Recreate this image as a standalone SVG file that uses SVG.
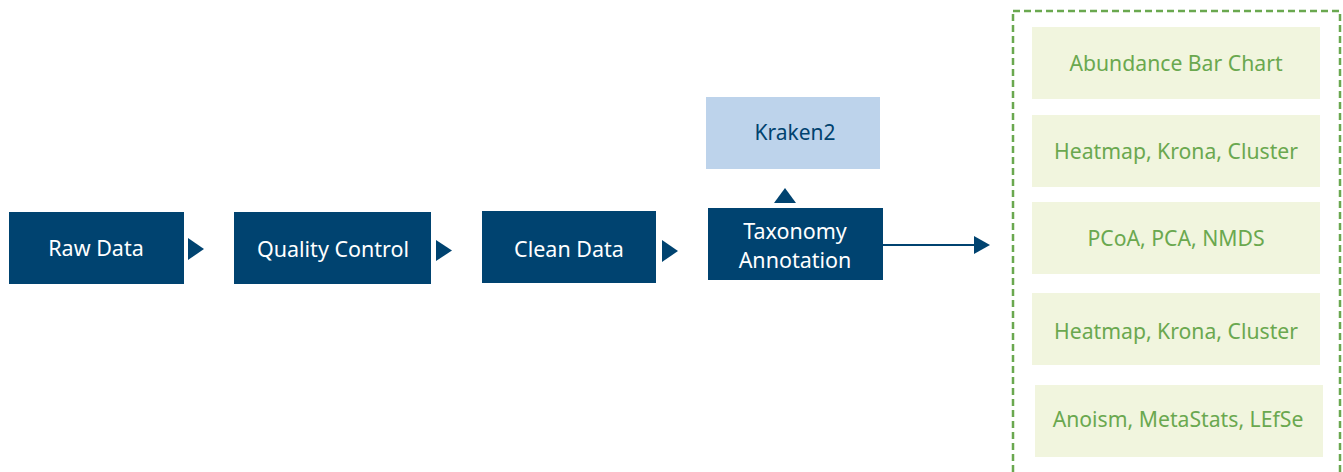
<svg xmlns="http://www.w3.org/2000/svg" width="1343" height="472" viewBox="0 0 1343 472">
<style>
.n{fill:#004370}
.nt{fill:#ffffff;font-family:"Noto Sans","Open Sans",sans-serif;font-size:21.5px;text-anchor:middle;dominant-baseline:central}
.k{fill:#bdd3eb}
.kt{fill:#00426f;font-family:"Noto Sans","Open Sans",sans-serif;font-size:21px;text-anchor:middle;dominant-baseline:central}
.g{fill:#f1f5de}
.gt{fill:#6aa84f;font-family:"Noto Sans","Open Sans",sans-serif;font-size:21.2px;text-anchor:middle;dominant-baseline:central}
.tri{fill:#004370}
</style>
<rect width="1343" height="472" fill="#ffffff"/>
<g id="raw"><rect class="n" x="9" y="212" width="175" height="72"/><text class="nt" x="96" y="247">Raw Data</text></g>
<g id="qc"><rect class="n" x="234" y="212" width="197" height="72"/><text class="nt" x="333" y="248">Quality Control</text></g>
<g id="clean"><rect class="n" x="482" y="211" width="174" height="72"/><text class="nt" x="569" y="248">Clean Data</text></g>
<g id="tax"><rect class="n" x="708" y="208" width="175" height="72"/><text class="nt" x="795" y="230">Taxonomy</text><text class="nt" x="795" y="259">Annotation</text></g>
<g id="kraken"><rect class="k" x="706" y="97" width="174" height="72"/><text class="kt" x="795" y="132">Kraken2</text></g>
<g id="results">
<rect x="1013" y="11" width="327" height="470" fill="none" stroke="#6aa84f" stroke-width="2.5" stroke-dasharray="7,4"/>
<g id="r1"><rect class="g" x="1032" y="27" width="288" height="72"/><text class="gt" x="1176" y="62">Abundance Bar Chart</text></g>
<g id="r2"><rect class="g" x="1032" y="115" width="288" height="72"/><text class="gt" x="1176" y="150">Heatmap, Krona, Cluster</text></g>
<g id="r3"><rect class="g" x="1032" y="202" width="288" height="72"/><text class="gt" x="1176" y="237">PCoA, PCA, NMDS</text></g>
<g id="r4"><rect class="g" x="1032" y="293" width="288" height="72"/><text class="gt" x="1176" y="330">Heatmap, Krona, Cluster</text></g>
<g id="r5"><rect class="g" x="1035" y="385" width="288" height="72"/><text class="gt" x="1178" y="418">Anoism, MetaStats, LEfSe</text></g>
</g>
<g id="connectors">
<polygon class="tri" points="188,238 204,249 188,260"/>
<polygon class="tri" points="436,240 452,250.5 436,261"/>
<polygon class="tri" points="662,240 678,251 662,262"/>
<polygon class="tri" points="774,203 785,188 796,203"/>
<line x1="883" y1="245" x2="975" y2="245" stroke="#004370" stroke-width="2"/>
<polygon class="tri" points="974,236 990,245 974,254"/>
</g>
</svg>
